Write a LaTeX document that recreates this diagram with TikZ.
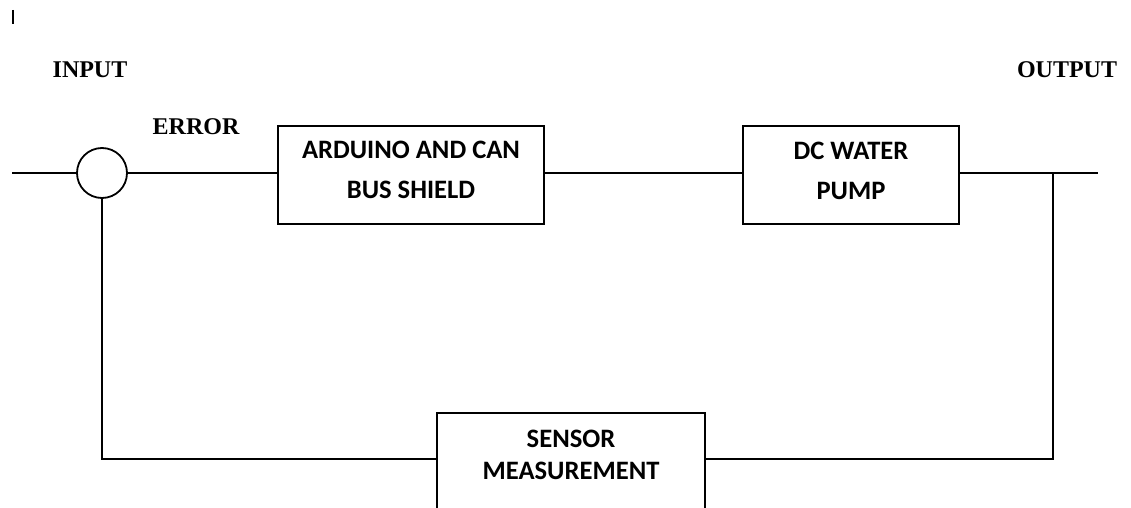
\documentclass[tikz,border=0pt]{standalone}
\usepackage{fontspec}
\setmainfont{Liberation Serif}
\newfontfamily\boxfont{Carlito}
\begin{document}
\begin{tikzpicture}[x=0.5pt,y=-0.5pt,
  wire/.style={line width=0.9pt,black},
  blockbox/.style={draw,line width=0.9pt,rectangle,inner sep=0pt},
  blocktext/.style={font=\boxfont\bfseries\fontsize{13.3}{20}\selectfont,align=center,inner sep=0pt},
  siglabel/.style={font=\bfseries\fontsize{12}{14}\selectfont,inner sep=0pt},
]
\useasboundingbox (0,0) rectangle (1131,508);
\fill[white] (0,0) rectangle (1131,508);
% cursor mark
\draw[line width=0.6pt] (13,10) -- (13,24);
% labels
\node[siglabel] (inlab) at (90,70) {INPUT};
\node[siglabel] (errlab) at (196,127) {ERROR};
\node[siglabel] (outlab) at (1067,70) {OUTPUT};
% summing junction
\node[draw,circle,line width=0.9pt,minimum size=25pt,inner sep=0pt] (sum) at (102,173) {};
% blocks
\node[blockbox,minimum width=133pt,minimum height=49pt] (ard) at (411,175) {};
\node[blocktext] (ardtext) at (411,170) {ARDUINO AND CAN\\BUS SHIELD};
\node[blockbox,minimum width=108pt,minimum height=49pt] (pump) at (851,175) {};
\node[blocktext] (pumptext) at (851,171) {DC WATER\\PUMP};
\node[blockbox,minimum width=134pt,minimum height=60pt,anchor=north] (sensor) at (571,412) {};
\node[blocktext,font=\boxfont\bfseries\fontsize{13.3}{16}\selectfont] (sensortext) at (571,455) {SENSOR\\MEASUREMENT};
% coordinates
\coordinate (inp) at (12,173);
\coordinate (outp) at (1098,173);
\coordinate (junc) at (1053,173);
\coordinate (fbR) at (1053,459);
\coordinate (fbL) at (102,459);
% forward path
\draw[wire] (inp) -- (sum.west);
\draw[wire] (sum.east) -- (sum.east -| ard.west);
\draw[wire] (ard.east |- junc) -- (pump.west |- junc);
\draw[wire] (pump.east |- junc) -- (outp);
% feedback path
\draw[wire] (junc) -- (fbR) -- (fbR -| sensor.east);
\draw[wire] (fbR -| sensor.west) -- (fbL) -- (sum.south);
\end{tikzpicture}
\end{document}
